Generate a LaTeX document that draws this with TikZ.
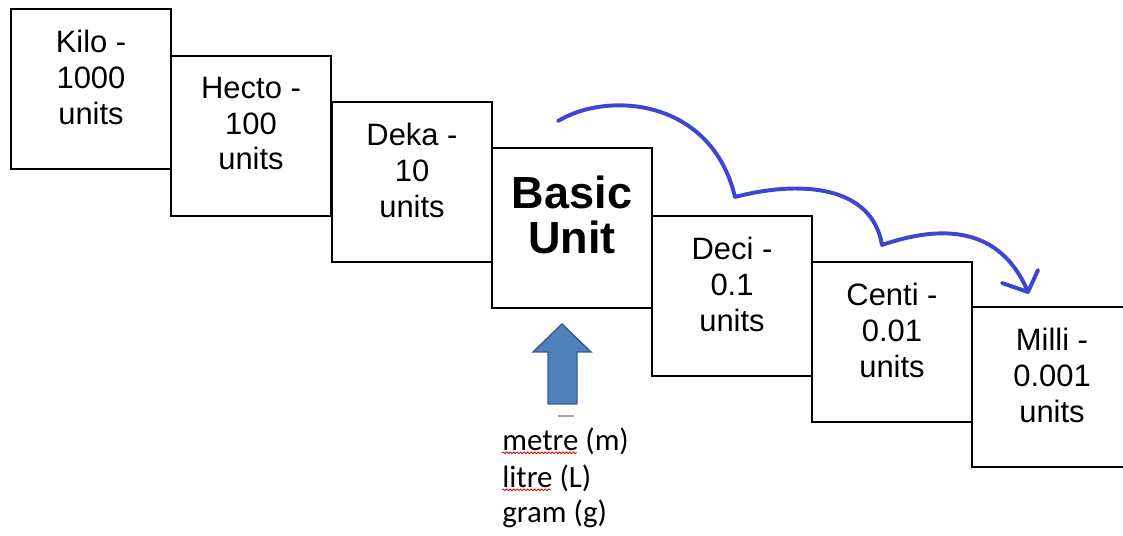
\documentclass[tikz,border=0pt]{standalone}
\usepackage{fontspec}
\setmainfont{Liberation Sans}
\newfontfamily\notefont{Carlito}
\usetikzlibrary{arrows.meta, positioning, decorations.pathmorphing}
\definecolor{penblue}{RGB}{60,70,210}
\definecolor{arrowfill}{RGB}{79,129,189}
\definecolor{arrowedge}{RGB}{56,93,138}
\tikzset{prefixbox/.style = {draw, line width=1.8pt, fill=white,
                             minimum width=4cm, minimum height=4cm, inner sep=0pt},
         prefixtext/.style = {align=center, inner sep=0pt,
                              font=\fontsize{22}{25.5}\selectfont},
         penline/.style = {penblue, line width=2.8pt, line cap=round, line join=round},
         notetext/.style = {anchor=base west, inner sep=0pt,
                            font=\notefont\fontsize{22}{25}\selectfont},
         spellmark/.style = {red!85!black, line width=.6pt,
                             decorate, decoration={snake, amplitude=.6pt, segment length=2.5pt}}}

\begin{document}
\begin{tikzpicture}[x=0.025cm, y=-0.025cm]
    \useasboundingbox (0,0) rectangle (1123,536);

    \begin{scope}
    \clip (0,0) rectangle (1123,536);
    \foreach \Name/\x/\y in {%
        kilo/91/89,
        hecto/251/136,
        deka/412/182,
        basic/572/228,
        deci/732/296,
        centi/892/342,
        milli/1052/387%
        }
        \node[prefixbox] (\Name) at (\x,\y) {};
    \end{scope}

    \foreach \Name/\Text in {%
        kilo/{Kilo -\\1000\\units},
        hecto/{Hecto -\\100\\units},
        deka/{Deka -\\10\\units},
        deci/{Deci -\\0.1\\units},
        centi/{Centi -\\0.01\\units},
        milli/{Milli -\\0.001\\units}%
        }
        \node[prefixtext, below=0.55cm of \Name.north] (\Name-text) {\Text};
    \node[prefixtext, font=\bfseries\fontsize{32}{32}\selectfont,
          below=0.72cm of basic.north] (basic-text) {Basic\\Unit};

    % hand drawn jumps to the right
    \coordinate (jump-start) at (558,121);
    \coordinate (jump-one) at (735,197);
    \coordinate (jump-two) at (882,245);
    \coordinate (jump-tip) at (1028,292);
    \draw[penline] (jump-start) .. controls (610,90) and (712,100) .. (jump-one)
                   .. controls (800,180) and (872,185) .. (jump-two)
                   .. controls (940,225) and (1000,225) .. (jump-tip);
    \draw[penline] (1002,283) -- (jump-tip) -- (1038,270);

    % block arrow up to the basic unit
    \draw[fill=arrowfill, draw=arrowedge, line width=1pt]
        (548,404) -- (548,352) -- (533,352) -- (562,324)
        -- (591,352) -- (577,352) -- (577,404) -- cycle;
    \draw[gray!70, line width=.8pt] (558,416) -- (574,416);

    \node[notetext] (metre) at (502,450) {metre (m)};
    \node[notetext] (litre) at (502,487) {litre (L)};
    \node[notetext] (gram) at (502,522) {gram (g)};
    \draw[spellmark] ([yshift=-2pt]metre.base west) -- ++(75,0);
    \draw[spellmark] ([yshift=-2pt]litre.base west) -- ++(49,0);
\end{tikzpicture}
\end{document}
